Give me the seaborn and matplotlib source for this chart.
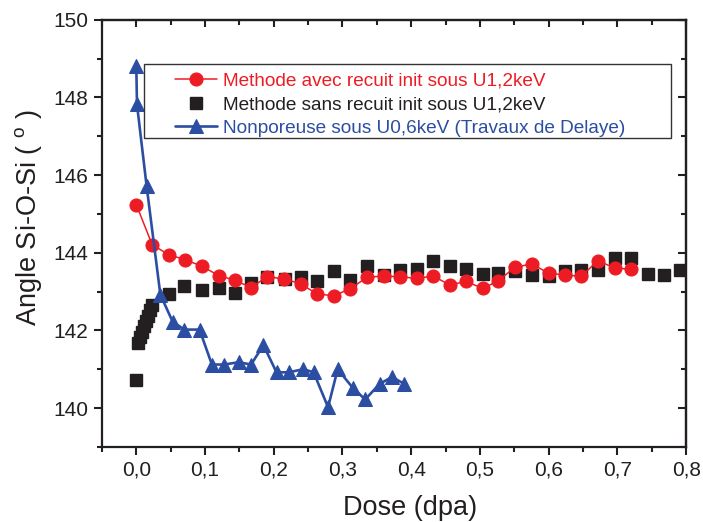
import matplotlib
matplotlib.use("Agg")
import matplotlib.pyplot as plt
import seaborn as sns
import pandas as pd
from matplotlib.patches import Rectangle
from matplotlib.ticker import MultipleLocator, FixedLocator, FixedFormatter

# Methode avec recuit init sous U1,2keV (red circles)
dose_avec = [0.0, 0.023, 0.047, 0.071, 0.096, 0.12, 0.144, 0.167, 0.19, 0.215,
             0.239, 0.263, 0.287, 0.311, 0.336, 0.36, 0.384, 0.408, 0.432, 0.456,
             0.48, 0.504, 0.527, 0.551, 0.576, 0.6, 0.624, 0.647, 0.672, 0.696, 0.72]
angle_avec = [145.24, 144.21, 143.95, 143.82, 143.65, 143.41, 143.29, 143.10, 143.38, 143.33,
              143.20, 142.94, 142.89, 143.07, 143.37, 143.40, 143.38, 143.34, 143.40, 143.17,
              143.26, 143.08, 143.28, 143.63, 143.71, 143.47, 143.43, 143.39, 143.80, 143.60, 143.58]

# Methode sans recuit init sous U1,2keV (black squares)
dose_sans = [0.0, 0.002, 0.005, 0.008, 0.011, 0.014, 0.017, 0.020, 0.023,
             0.047, 0.070, 0.095, 0.12, 0.143, 0.167, 0.19, 0.216, 0.239, 0.263,
             0.287, 0.311, 0.336, 0.36, 0.384, 0.408, 0.432, 0.456, 0.48, 0.504,
             0.527, 0.551, 0.576, 0.6, 0.624, 0.647, 0.672, 0.696, 0.72, 0.744,
             0.768, 0.791]
angle_sans = [140.72, 141.67, 141.83, 141.97, 142.10, 142.24, 142.38, 142.52, 142.66,
              142.94, 143.14, 143.05, 143.09, 142.97, 143.22, 143.37, 143.32, 143.38, 143.26,
              143.54, 143.29, 143.67, 143.43, 143.56, 143.58, 143.78, 143.65, 143.58, 143.46,
              143.47, 143.52, 143.43, 143.41, 143.52, 143.56, 143.56, 143.86, 143.86, 143.45,
              143.43, 143.56]

# Nonporeuse sous U0,6keV (Travaux de Delaye) (blue triangles)
dose_delaye = [0.0, 0.001, 0.015, 0.035, 0.053, 0.070, 0.092, 0.11, 0.128, 0.149,
               0.167, 0.185, 0.204, 0.222, 0.243, 0.258, 0.279, 0.293, 0.315, 0.333,
               0.354, 0.372, 0.39]
angle_delaye = [148.80, 147.82, 145.72, 142.92, 142.22, 142.02, 142.02, 141.12, 141.12, 141.18,
                141.12, 141.62, 140.92, 140.92, 141.00, 140.92, 140.02, 141.00, 140.52, 140.22,
                140.62, 140.80, 140.62]

labels = ["Methode avec recuit init sous U1,2keV",
          "Methode sans recuit init sous U1,2keV",
          "Nonporeuse sous U0,6keV (Travaux de Delaye)"]
xtick_values = [0.0, 0.1, 0.2, 0.3, 0.4, 0.5, 0.6, 0.7, 0.8]
xtick_labels = ["0,0", "0,1", "0,2", "0,3", "0,4", "0,5", "0,6", "0,7", "0,8"]

RED = "#ED1C24"
BLACK = "#231F20"
BLUE = "#2B4EA3"

df_avec = pd.DataFrame({"dose": dose_avec, "angle": angle_avec})
df_sans = pd.DataFrame({"dose": dose_sans, "angle": angle_sans})
df_delaye = pd.DataFrame({"dose": dose_delaye, "angle": angle_delaye})

sns.set_style("ticks")
plt.rcParams["font.family"] = ["Liberation Sans", "DejaVu Sans"]
plt.rcParams["mathtext.fontset"] = "custom"
plt.rcParams["mathtext.rm"] = "Liberation Sans"

fig, ax = plt.subplots(figsize=(7.03, 5.22), dpi=100)
fig.subplots_adjust(left=0.145, right=0.976, top=0.962, bottom=0.144)

ax.plot(df_sans["dose"], df_sans["angle"], ls="none", marker="s", ms=8.4,
        color=BLACK, mec=BLACK, zorder=2, label=labels[1])
sns.lineplot(data=df_avec, x="dose", y="angle", ax=ax, sort=False, color=RED,
             lw=1.1, marker="o", ms=9.4, mec=RED, zorder=3, label=labels[0], legend=False)
sns.lineplot(data=df_delaye, x="dose", y="angle", ax=ax, sort=False, color=BLUE,
             lw=1.9, marker="^", ms=10.5, mec=BLUE, zorder=4, label=labels[2], legend=False)

ax.set_xlim(-0.05, 0.8)
ax.set_ylim(139, 150)
ax.xaxis.set_major_locator(FixedLocator(xtick_values))
ax.xaxis.set_major_formatter(FixedFormatter(xtick_labels))
ax.xaxis.set_minor_locator(MultipleLocator(0.05))
ax.yaxis.set_major_locator(MultipleLocator(2))
ax.yaxis.set_minor_locator(MultipleLocator(1))
ax.tick_params(which="major", direction="out", length=6, width=1.5, labelsize=15, pad=4,
               top=False, right=False, color=BLACK, labelcolor=BLACK)
ax.tick_params(which="minor", direction="out", length=3.5, width=1.5, top=False, right=False,
               color=BLACK)
for sp in ax.spines.values():
    sp.set_visible(True)
    sp.set_linewidth(1.6)
    sp.set_color(BLACK)

# mirrored inward ticks on top and right
secx = ax.secondary_xaxis("top")
secx.xaxis.set_major_locator(FixedLocator(xtick_values))
secx.xaxis.set_minor_locator(MultipleLocator(0.05))
secx.tick_params(which="major", direction="in", length=5, width=1.5, labeltop=False, color=BLACK)
secx.tick_params(which="minor", direction="in", length=3.5, width=1.5, color=BLACK)
secx.spines["top"].set_linewidth(1.6)
secy = ax.secondary_yaxis("right")
secy.yaxis.set_major_locator(MultipleLocator(2))
secy.yaxis.set_minor_locator(MultipleLocator(1))
secy.tick_params(which="major", direction="in", length=6, width=1.5, labelright=False, color=BLACK)
secy.tick_params(which="minor", direction="in", length=3.5, width=1.5, color=BLACK)
secy.spines["right"].set_linewidth(1.6)

ax.set_xlabel("Dose (dpa)", fontsize=19.5, color=BLACK)
ax.set_ylabel("Angle Si-O-Si ( $^{\\mathrm{o}}$ )", fontsize=19.5, color=BLACK)
ax.xaxis.set_label_coords(0.527, -0.112)
ax.yaxis.set_label_coords(-0.099, 0.536)

# legend frame drawn as a white box above the data
ax.add_patch(Rectangle((0.072, 0.724), 0.902, 0.173, transform=ax.transAxes,
                       facecolor="white", edgecolor="#333333", lw=1.0, zorder=5))
handles, _ = ax.get_legend_handles_labels()
order = [labels.index(h.get_label()) for h in handles]
handles = [h for _, h in sorted(zip(order, handles), key=lambda t: t[0])]
leg = ax.legend(handles=handles, labels=labels, loc="upper left",
                bbox_to_anchor=(0.125, 0.877), frameon=False, fontsize=13.7,
                handlelength=2.2, handletextpad=0.35, labelspacing=0.33,
                borderpad=0, borderaxespad=0, numpoints=1)
leg.set_zorder(6)
for txt, col in zip(leg.get_texts(), [RED, BLACK, BLUE]):
    txt.set_color(col)

fig.savefig("out.png", dpi=100)
